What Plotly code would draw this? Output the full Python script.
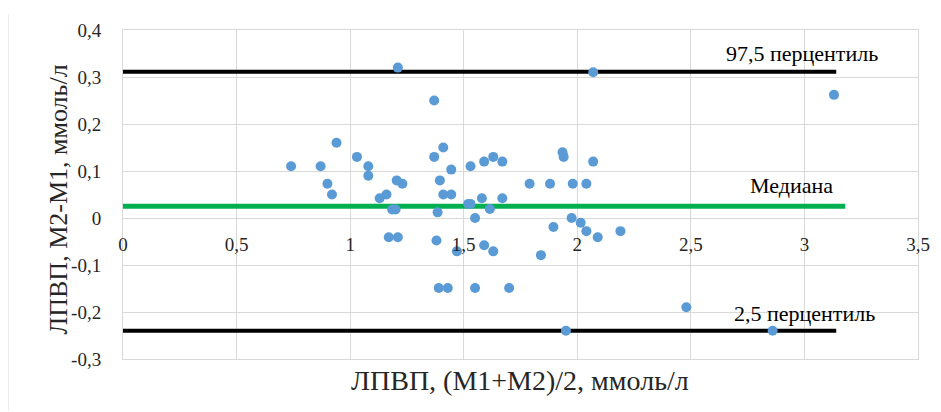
import plotly.graph_objects as go

# Bland-Altman data (mean of measurements, difference)
mean_vals = [0.74, 0.87, 0.94, 0.90, 0.92, 1.03, 1.08, 1.08, 1.13, 1.16, 1.185, 1.20,
             1.205, 1.23, 1.37, 1.37, 1.41, 1.445, 1.395, 1.41, 1.445, 1.385, 1.53, 1.52,
             1.53, 1.55, 1.59, 1.63, 1.67, 1.58, 1.67, 1.615, 1.79, 1.88, 1.98, 2.04,
             1.935, 1.94, 2.07, 1.975, 2.015, 2.04, 1.895, 2.09, 2.19, 1.17, 1.21, 1.38,
             1.47, 1.59, 1.63, 1.84, 1.39, 1.43, 1.55, 1.70, 1.21, 2.07, 3.13, 2.48,
             1.95, 2.86]
diff_vals = [0.11, 0.11, 0.16, 0.073, 0.05, 0.13, 0.11, 0.09, 0.042, 0.05, 0.018, 0.018,
             0.08, 0.073, 0.25, 0.13, 0.15, 0.103, 0.08, 0.05, 0.05, 0.012, 0.11, 0.03,
             0.03, 0.0, 0.12, 0.13, 0.12, 0.042, 0.042, 0.019, 0.073, 0.073, 0.073, 0.073,
             0.14, 0.13, 0.12, 0.0, -0.01, -0.028, -0.019, -0.041, -0.028, -0.041, -0.041, -0.048,
             -0.071, -0.058, -0.071, -0.079, -0.149, -0.149, -0.149, -0.149, 0.32, 0.31, 0.262, -0.19,
             -0.24, -0.24]

p975 = 0.311
median = 0.025
p25 = -0.24
line_x = [0, 3.14]
median_x = [0, 3.18]

x_ticks = [0, 0.5, 1, 1.5, 2, 2.5, 3, 3.5]
x_tick_text = ["0", "0,5", "1", "1,5", "2", "2,5", "3", "3,5"]
y_ticks = [-0.3, -0.2, -0.1, 0, 0.1, 0.2, 0.3, 0.4]
y_tick_text = ["-0,3", "-0,2", "-0,1", "0", "0,1", "0,2", "0,3", "0,4"]

FONT = "Liberation Serif, Times New Roman, serif"
GRID = "#d9d9d9"
TXT = "#262626"

fig = go.Figure()
fig.add_trace(go.Scatter(x=line_x, y=[p975, p975], mode="lines",
                         line=dict(color="black", width=4), hoverinfo="skip"))
fig.add_trace(go.Scatter(x=line_x, y=[p25, p25], mode="lines",
                         line=dict(color="black", width=4), hoverinfo="skip"))
fig.add_trace(go.Scatter(x=median_x, y=[median, median], mode="lines",
                         line=dict(color="#00b050", width=5), hoverinfo="skip"))
fig.add_trace(go.Scatter(x=mean_vals, y=diff_vals, mode="markers",
                         marker=dict(color="#5b9bd5", size=10)))

y_range = [-0.3, 0.4]
x_range = [0, 3.5]
zero_pos = (0 - y_range[0]) / (y_range[1] - y_range[0])

# page body has an 8px default margin, so margins are reduced by 8px
fig.update_layout(
    width=941, height=412,
    margin=dict(l=115, r=31, t=15, b=61),
    paper_bgcolor="white", plot_bgcolor="white",
    showlegend=False,
    font=dict(family=FONT, size=19, color=TXT),
    xaxis=dict(range=x_range, tickvals=x_ticks, showticklabels=False,
               showgrid=True, gridcolor=GRID, gridwidth=1, zeroline=False,
               showline=True, linecolor=GRID, mirror=True, ticks=""),
    xaxis2=dict(range=x_range, overlaying="x", anchor="free", position=zero_pos,
                tickvals=x_ticks, ticktext=x_tick_text, showgrid=False,
                zeroline=False, showline=False, ticks="outside", ticklen=0,
                ticklabelstandoff=9, tickfont=dict(family=FONT, size=19, color=TXT)),
    yaxis=dict(range=y_range, tickvals=y_ticks, ticktext=y_tick_text,
               showgrid=True, gridcolor=GRID, gridwidth=1, zeroline=True,
               zerolinecolor=GRID, zerolinewidth=1,
               showline=True, linecolor=GRID, mirror=True, ticks="",
               ticklabelstandoff=17, tickfont=dict(family=FONT, size=19, color=TXT)),
)

# invisible trace to activate xaxis2
fig.add_trace(go.Scatter(x=[x_range[0]], y=[y_range[0]], xaxis="x2", mode="markers",
                         marker=dict(opacity=0), hoverinfo="skip"))

fig.add_annotation(text="97,5 перцентиль", x=2.99, y=0.351, showarrow=False,
                   font=dict(family=FONT, size=22, color="black"))
fig.add_annotation(text="Медиана", x=2.944, y=0.070, showarrow=False,
                   font=dict(family=FONT, size=22, color="black"))
fig.add_annotation(text="2,5 перцентиль", x=3.0, y=-0.203, showarrow=False,
                   font=dict(family=FONT, size=22, color="black"))

fig.add_annotation(text="ЛПВП, (М1+М2)/2, ммоль/л", xref="paper", yref="paper",
                   x=(520 - 123) / 795, y=(359 - 381) / 336, showarrow=False,
                   xanchor="center", yanchor="middle",
                   font=dict(family=FONT, size=28, color=TXT))
fig.add_annotation(text="ЛПВП, М2-М1, ммоль/л", xref="paper", yref="paper",
                   x=(58 - 123) / 795, y=(359 - 196) / 336, showarrow=False,
                   xanchor="center", yanchor="middle",
                   textangle=-90, font=dict(family=FONT, size=26, color=TXT))

fig.add_shape(type="line", xref="paper", yref="paper",
              x0=(8 - 123) / 795, x1=(8 - 123) / 795,
              y0=(359 - 412) / 336, y1=(359 - 7) / 336,
              line=dict(color=GRID, width=1))

fig.write_html("out.html")
